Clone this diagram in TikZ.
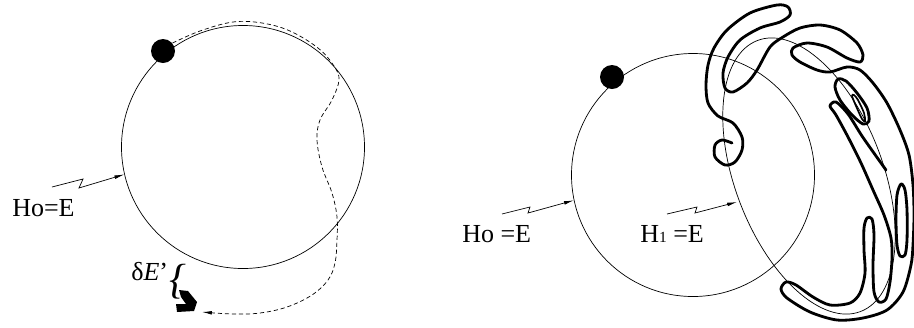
\documentclass[tikz,border=0pt]{standalone}
\usepackage{fontspec}
\setmainfont{Liberation Serif}
\usetikzlibrary{arrows.meta}

\tikzset{
  orbit/.style={circle, draw, line width=0.5pt, minimum size=60.75mm, inner sep=0pt},
  dot/.style={circle, fill=black, minimum size=6mm, inner sep=0pt},
  zap/.style={line width=0.5pt, -{Latex[length=7pt,width=2.6pt]}},
  filament/.style={line width=2pt, line join=round, line cap=round},
  lbl/.style={anchor=base west, inner sep=0pt, font=\fontsize{18.5}{20}\selectfont},
}

\begin{document}
\begin{tikzpicture}[x=0.25mm, y=-0.25mm]
        \useasboundingbox (0,0) rectangle (914,327);
        % unperturbed torus
        \node[orbit] (E0) at (243,147) {};
        \node[dot] (p0) at (163,51) {};
        \node[lbl] (h0) at (12,216) {Ho=E};
        \coordinate (z0) at (52,187);
        \draw[zap] (z0) -- ++(31,-8) -- ++(-4,9) -- (E0.193);
        % drift of the energy
        \coordinate (tipE) at (202,312);
        \draw[line width=0.5pt, dash pattern=on 3pt off 2pt, -{Latex[length=7pt,width=2.6pt]}]
            plot[smooth, tension=0.6] coordinates {(p0.40) (200,31) (233,22) (262,23) (290,31)
            (318,48) (334,66) (339,80) (332,100) (320,120) (317,140) (322,167) (332,193)
            (337,217) (337,240) (335,263) (328,280) (312,295) (287,307) (260,313) (233,314) (tipE)};
        \node[lbl] (dE) at (131,280) {δ\textit{E}'};
        \node[inner sep=0pt, font=\fontsize{30}{30}\selectfont] (br) at (178,282) {\textit{\{}};
        \fill (179,290) -- (188,291) -- (197,302) -- (194,311) -- (177,312) -- (176,304)
            -- (186,304) -- (181,297) -- cycle;

        % perturbed torus
        \node[orbit] (E1) at (693,175) {};
        \node[dot] (p1) at (612,77) {};
        \draw[line width=0.5pt, rotate around={-69.2:(809,176)}] (809,176) ellipse [x radius=145, y radius=74];
        \node[lbl] (h1) at (462,242) {Ho =E};
        \node[lbl] (h2) at (640,242) {H{\fontsize{11}{11}\selectfont 1} =E};
        \coordinate (z1) at (502,214);
        \coordinate (z2) at (667,214);
        \coordinate (t2) at (737,202);
        \draw[zap] (z1) -- ++(28,-7) -- ++(-2,6) -- (E1.192);
        \draw[zap] (z2) -- ++(30,-7) -- ++(-2,6) -- (t2);
        % filaments
        \draw[filament] plot[smooth] coordinates {(732,143) (722,140) (715,145) (715,157)
            (725,165) (735,162) (742,150) (742,137) (733,123) (718,116) (708,103) (706,85)
            (708,65) (714,48) (727,30) (750,13) (777,5) (788,7) (790,15) (780,22) (760,28)
            (740,40) (728,57) (723,73) (725,88) (733,92) (747,83) (757,70) (770,47) (783,37)
            (800,28) (820,25) (840,30) (857,43) (863,55) (860,62) (847,58) (827,47) (807,43)
            (793,48) (792,55) (800,62) (817,70) (830,72) (847,67) (860,70) (873,83) (887,103)
            (900,130) (909,155) (913,185) (914,215) (913,245) (911,265) (903,292) (887,310)
            (863,318) (837,320) (810,312) (787,298) (781,289) (786,282) (796,285) (813,297)
            (830,305) (850,303) (860,293) (865,273) (864,250) (864,228) (867,218) (872,219)
            (874,235) (873,265) (874,292) (879,302) (886,299) (890,282) (892,258) (891,238)
            (884,215) (873,190) (861,163) (848,137) (836,115) (830,106) (836,102) (848,114)
            (862,136) (876,156) (886,170)};
        \draw[filament] plot[smooth cycle] coordinates {(838,79) (835,87) (840,100) (852,115)
            (863,124) (869,121) (867,108) (857,93) (846,81)};
        \draw[line width=1.2pt] plot[smooth cycle] coordinates {(852,96) (856,106) (862,119)
            (865,121) (864,113) (858,100) (854,95)};
        \draw[filament] plot[smooth cycle] coordinates {(901,184) (897,195) (896,220) (897,245)
            (900,256) (905,255) (907,240) (907,210) (905,190)};
    \end{tikzpicture}
\end{document}
